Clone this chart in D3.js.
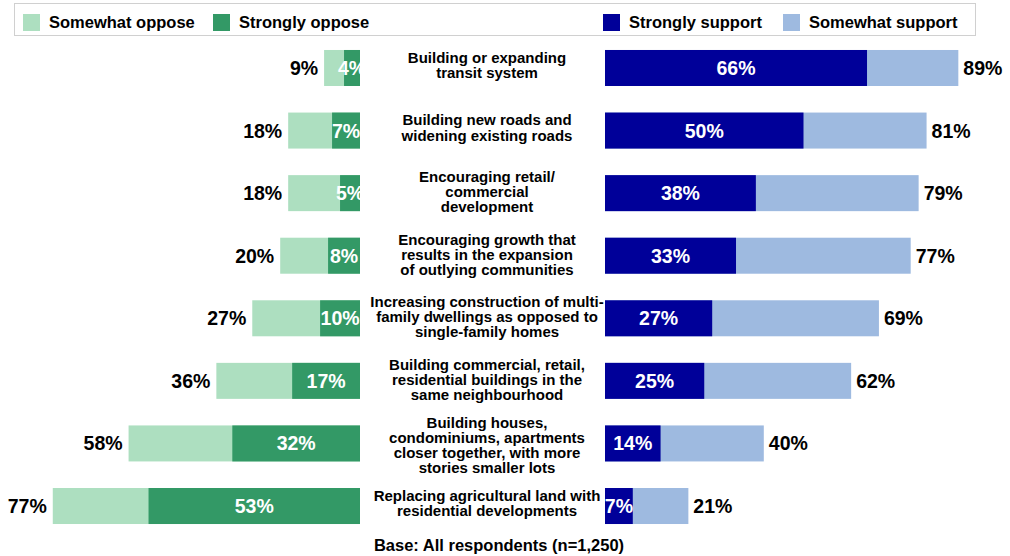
<!DOCTYPE html>
<html><head><meta charset="utf-8">
<script src="https://cdn.jsdelivr.net/npm/d3@7"></script>
<style>body{margin:0;background:#fff}svg{display:block;font-family:"Liberation Sans",Arial,sans-serif;font-weight:bold}</style>
</head><body>
<svg id="c" width="1010" height="556"></svg>
<script>
const categories = [
  ["Building or expanding","transit system"],
  ["Building new roads and","widening existing roads"],
  ["Encouraging retail/","commercial","development"],
  ["Encouraging growth that","results in the expansion","of outlying communities"],
  ["Increasing construction of multi-","family dwellings as opposed to","single-family homes"],
  ["Building commercial, retail,","residential buildings  in the","same neighbourhood"],
  ["Building houses,","condominiums, apartments","closer together, with more","stories smaller lots"],
  ["Replacing agricultural land with","residential developments"]
];
const opposeTotal = [9,18,18,20,27,36,58,77];
const strongOppose = [4,7,5,8,10,17,32,53];
const strongSupport = [66,50,38,33,27,25,14,7];
const supportTotal = [89,81,79,77,69,62,40,21];
const legendItems = ["Somewhat oppose","Strongly oppose","Strongly support","Somewhat support"];
const baseNote = "Base: All respondents (n=1,250)";

const colors = {so:"#ADDFC0", st:"#339966", ss:"#000099", sw:"#9EBAE0"};
const svg = d3.select("#c");
const idx = d3.range(categories.length);
const y = d3.scaleBand().domain(idx).range([36.7, 537.3]).paddingInner(0.4246).paddingOuter(0.2123);
const xL = d3.scaleLinear().domain([0,100]).range([360, 360-399]);
const xR = d3.scaleLinear().domain([0,100]).range([605, 605+397]);

const defs = svg.append("defs");
defs.append("clipPath").attr("id","cl").append("rect").attr("x",0).attr("y",0).attr("width",360).attr("height",556);
defs.append("clipPath").attr("id","cr").append("rect").attr("x",605).attr("y",0).attr("width",405).attr("height",556);

// legend
svg.append("rect").attr("x",14.5).attr("y",3.5).attr("width",961).attr("height",32).attr("fill","#fff").attr("stroke","#d0d0d0");
const legX = [23,213,603,783];
const legC = [colors.so,colors.st,colors.ss,colors.sw];
legendItems.forEach((t,i)=>{
  svg.append("rect").attr("x",legX[i]).attr("y",14).attr("width",17).attr("height",17).attr("fill",legC[i]);
  svg.append("text").attr("x",legX[i]+26).attr("y",28).attr("font-size",16.5).attr("fill","#000").text(t);
});

const L = svg.append("g").attr("clip-path","url(#cl)");
const R = svg.append("g").attr("clip-path","url(#cr)");
const bw = y.bandwidth();
const vfs = 19.5, vdy = 7;

L.selectAll(".so").data(idx).join("rect").attr("class","so").attr("x",i=>xL(opposeTotal[i])).attr("y",i=>y(i)).attr("width",i=>xL(0)-xL(opposeTotal[i])).attr("height",bw).attr("fill",colors.so);
L.selectAll(".st").data(idx).join("rect").attr("class","st").attr("x",i=>xL(strongOppose[i])).attr("y",i=>y(i)).attr("width",i=>xL(0)-xL(strongOppose[i])).attr("height",bw).attr("fill",colors.st);
L.selectAll(".stl").data(idx).join("text").attr("class","stl").attr("x",i=>(xL(0)+xL(strongOppose[i]))/2).attr("y",i=>y(i)+bw/2+vdy).attr("text-anchor","middle").attr("font-size",vfs).attr("fill","#fff").text(i=>strongOppose[i]+"%");
L.selectAll(".sol").data(idx).join("text").attr("class","sol").attr("x",i=>xL(opposeTotal[i])-6).attr("y",i=>y(i)+bw/2+vdy).attr("text-anchor","end").attr("font-size",vfs).attr("fill","#000").text(i=>opposeTotal[i]+"%");

R.selectAll(".sw").data(idx).join("rect").attr("class","sw").attr("x",xR(0)).attr("y",i=>y(i)).attr("width",i=>xR(supportTotal[i])-xR(0)).attr("height",bw).attr("fill",colors.sw);
R.selectAll(".ss").data(idx).join("rect").attr("class","ss").attr("x",xR(0)).attr("y",i=>y(i)).attr("width",i=>xR(strongSupport[i])-xR(0)).attr("height",bw).attr("fill",colors.ss);
R.selectAll(".ssl").data(idx).join("text").attr("class","ssl").attr("x",i=>(xR(0)+xR(strongSupport[i]))/2).attr("y",i=>y(i)+bw/2+vdy).attr("text-anchor","middle").attr("font-size",vfs).attr("fill","#fff").text(i=>strongSupport[i]+"%");
R.selectAll(".swl").data(idx).join("text").attr("class","swl").attr("x",i=>xR(supportTotal[i])+5).attr("y",i=>y(i)+bw/2+vdy).attr("text-anchor","start").attr("font-size",vfs).attr("fill","#000").text(i=>supportTotal[i]+"%");

// category labels
idx.forEach(i=>{
  const lines = categories[i];
  const n = lines.length;
  const lh = 15.2;
  const off = n >= 4 ? 7 : (n === 3 ? 4 : 2.5);
  const cy = y(i)+bw/2;
  const t = svg.append("text").attr("text-anchor","middle").attr("font-size",15).attr("fill","#000");
  lines.forEach((ln,j)=>{
    t.append("tspan").attr("x",487).attr("y",cy + (j-(n-1)/2)*lh + off).text(ln);
  });
});

svg.append("text").attr("x",499).attr("y",551).attr("text-anchor","middle").attr("font-size",16.5).attr("fill","#000").text(baseNote);
</script>
</body></html>
